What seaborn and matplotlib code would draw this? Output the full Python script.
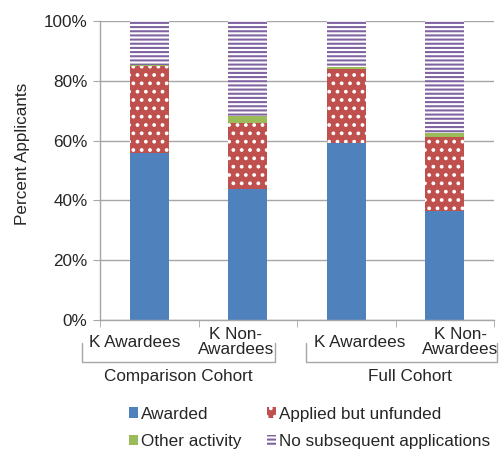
import matplotlib
matplotlib.use("agg")
import matplotlib.pyplot as plt
import matplotlib.transforms as mtransforms
from matplotlib.patches import Patch
import seaborn as sns
import pandas as pd
import numpy as np

# data (percent of applicants)
groups = ["Comparison Cohort", "Comparison Cohort", "Full Cohort", "Full Cohort"]
categories = ["K Awardees", "K Non-\nAwardees", "K Awardees", "K Non-\nAwardees"]
awarded = [56.0, 43.8, 59.2, 36.5]
applied_unfunded = [28.8, 22.1, 24.7, 24.7]
other_activity = [0.5, 2.3, 0.7, 1.3]
no_subsequent = [14.7, 31.8, 15.4, 37.5]

series_names = ["Awarded", "Applied but unfunded", "Other activity", "No subsequent applications"]
y_ticks = [0, 20, 40, 60, 80, 100]

sns.set_style("white")
plt.rcParams["font.family"] = ["Liberation Sans", "DejaVu Sans"]
plt.rcParams["font.size"] = 12.3
plt.rcParams["hatch.linewidth"] = 1.5

# styles for each layer: face, hatch, hatch colour
styles = {
    "Awarded": ("#4F81BD", None, "#4F81BD"),
    "Applied but unfunded": ("#C0504D", "..", "white"),
    "Other activity": ("#9BBB59", None, "#9BBB59"),
    "No subsequent applications": ("white", "----", "#8064A2"),
}

bar_ids = [f"{g}|{c}" for g, c in zip(groups, categories)]
df = pd.DataFrame({
    "bar": bar_ids,
    "Awarded": awarded,
    "Applied but unfunded": applied_unfunded,
    "Other activity": other_activity,
    "No subsequent applications": no_subsequent,
})
cum = df[series_names].cumsum(axis=1)
cum["bar"] = df["bar"]

fig = plt.figure(figsize=(4.99, 4.5), dpi=100)
ax = fig.add_axes([100 / 499, 1 - 320 / 450, 394 / 499, 299 / 450])

# draw cumulative bars from the top layer down so the lower ones sit in front
for name in reversed(series_names):
    face, hatch, hcol = styles[name]
    n_before = len(ax.patches)
    sns.barplot(data=cum, x="bar", y=name, order=bar_ids, color=face,
                saturation=1, width=0.4, errorbar=None, ax=ax)
    for p in ax.patches[n_before:]:
        p.set_facecolor(face)
        p.set_edgecolor(hcol)
        p.set_linewidth(0)
        if hatch:
            p.set_hatch(hatch)

ax.set_xlim(-0.5, 3.5)
ax.set_ylim(0, 100)
ax.set_yticks(y_ticks)
ax.set_yticklabels([f"{t}%" for t in y_ticks])
ax.yaxis.grid(True, color="#A6A6A6", linewidth=1)
ax.set_axisbelow(True)
for s in ["top", "right"]:
    ax.spines[s].set_visible(False)
for s in ["left", "bottom"]:
    ax.spines[s].set_color("#A6A6A6")
    ax.spines[s].set_linewidth(1)
ax.tick_params(axis="y", left=True, length=5, color="#A6A6A6", pad=4)

# category separators on the x axis
ax.set_xticks([])
ax.set_xticks([-0.5, 0.5, 1.5, 2.5, 3.5], minor=True)
ax.tick_params(axis="x", which="minor", bottom=True, length=5, color="#A6A6A6")
ax.set_xlabel("")
ax.set_ylabel("Percent Applicants")
ax.yaxis.set_label_coords(-0.178, 0.555)

trans = mtransforms.blended_transform_factory(ax.transData, ax.transAxes)
label_x = [-0.145, 0.88, 2.14, 3.16]
for x, c in zip(label_x, categories):
    ax.text(x, -0.074, c, transform=trans, ha="center", va="center",
            linespacing=0.95, clip_on=False)

# group brackets
for (x0, x1), gx, g in zip([(-0.683, 1.277), (1.59, 3.53)], [0.29, 2.65],
                           ["Comparison Cohort", "Full Cohort"]):
    ax.plot([x0, x0, x1, x1], [-0.077, -0.140, -0.140, -0.077], transform=trans,
            color="#A6A6A6", linewidth=1, clip_on=False)
    ax.text(gx, -0.19, g, transform=trans, ha="center", va="center", clip_on=False)

handles = []
for name in series_names:
    face, hatch, hcol = styles[name]
    handles.append(Patch(facecolor=face, edgecolor=hcol, hatch=hatch, linewidth=0, label=name))
order = [0, 2, 1, 3]
fig.legend([handles[i] for i in order], [series_names[i] for i in order],
           ncol=2, loc="upper left", bbox_to_anchor=(120 / 499, 1 - 398 / 450),
           frameon=False, borderpad=0, handlelength=0.55, handleheight=0.55,
           handletextpad=0.2, columnspacing=1.45, labelspacing=0.75)

fig.savefig("out.png", dpi=100)
